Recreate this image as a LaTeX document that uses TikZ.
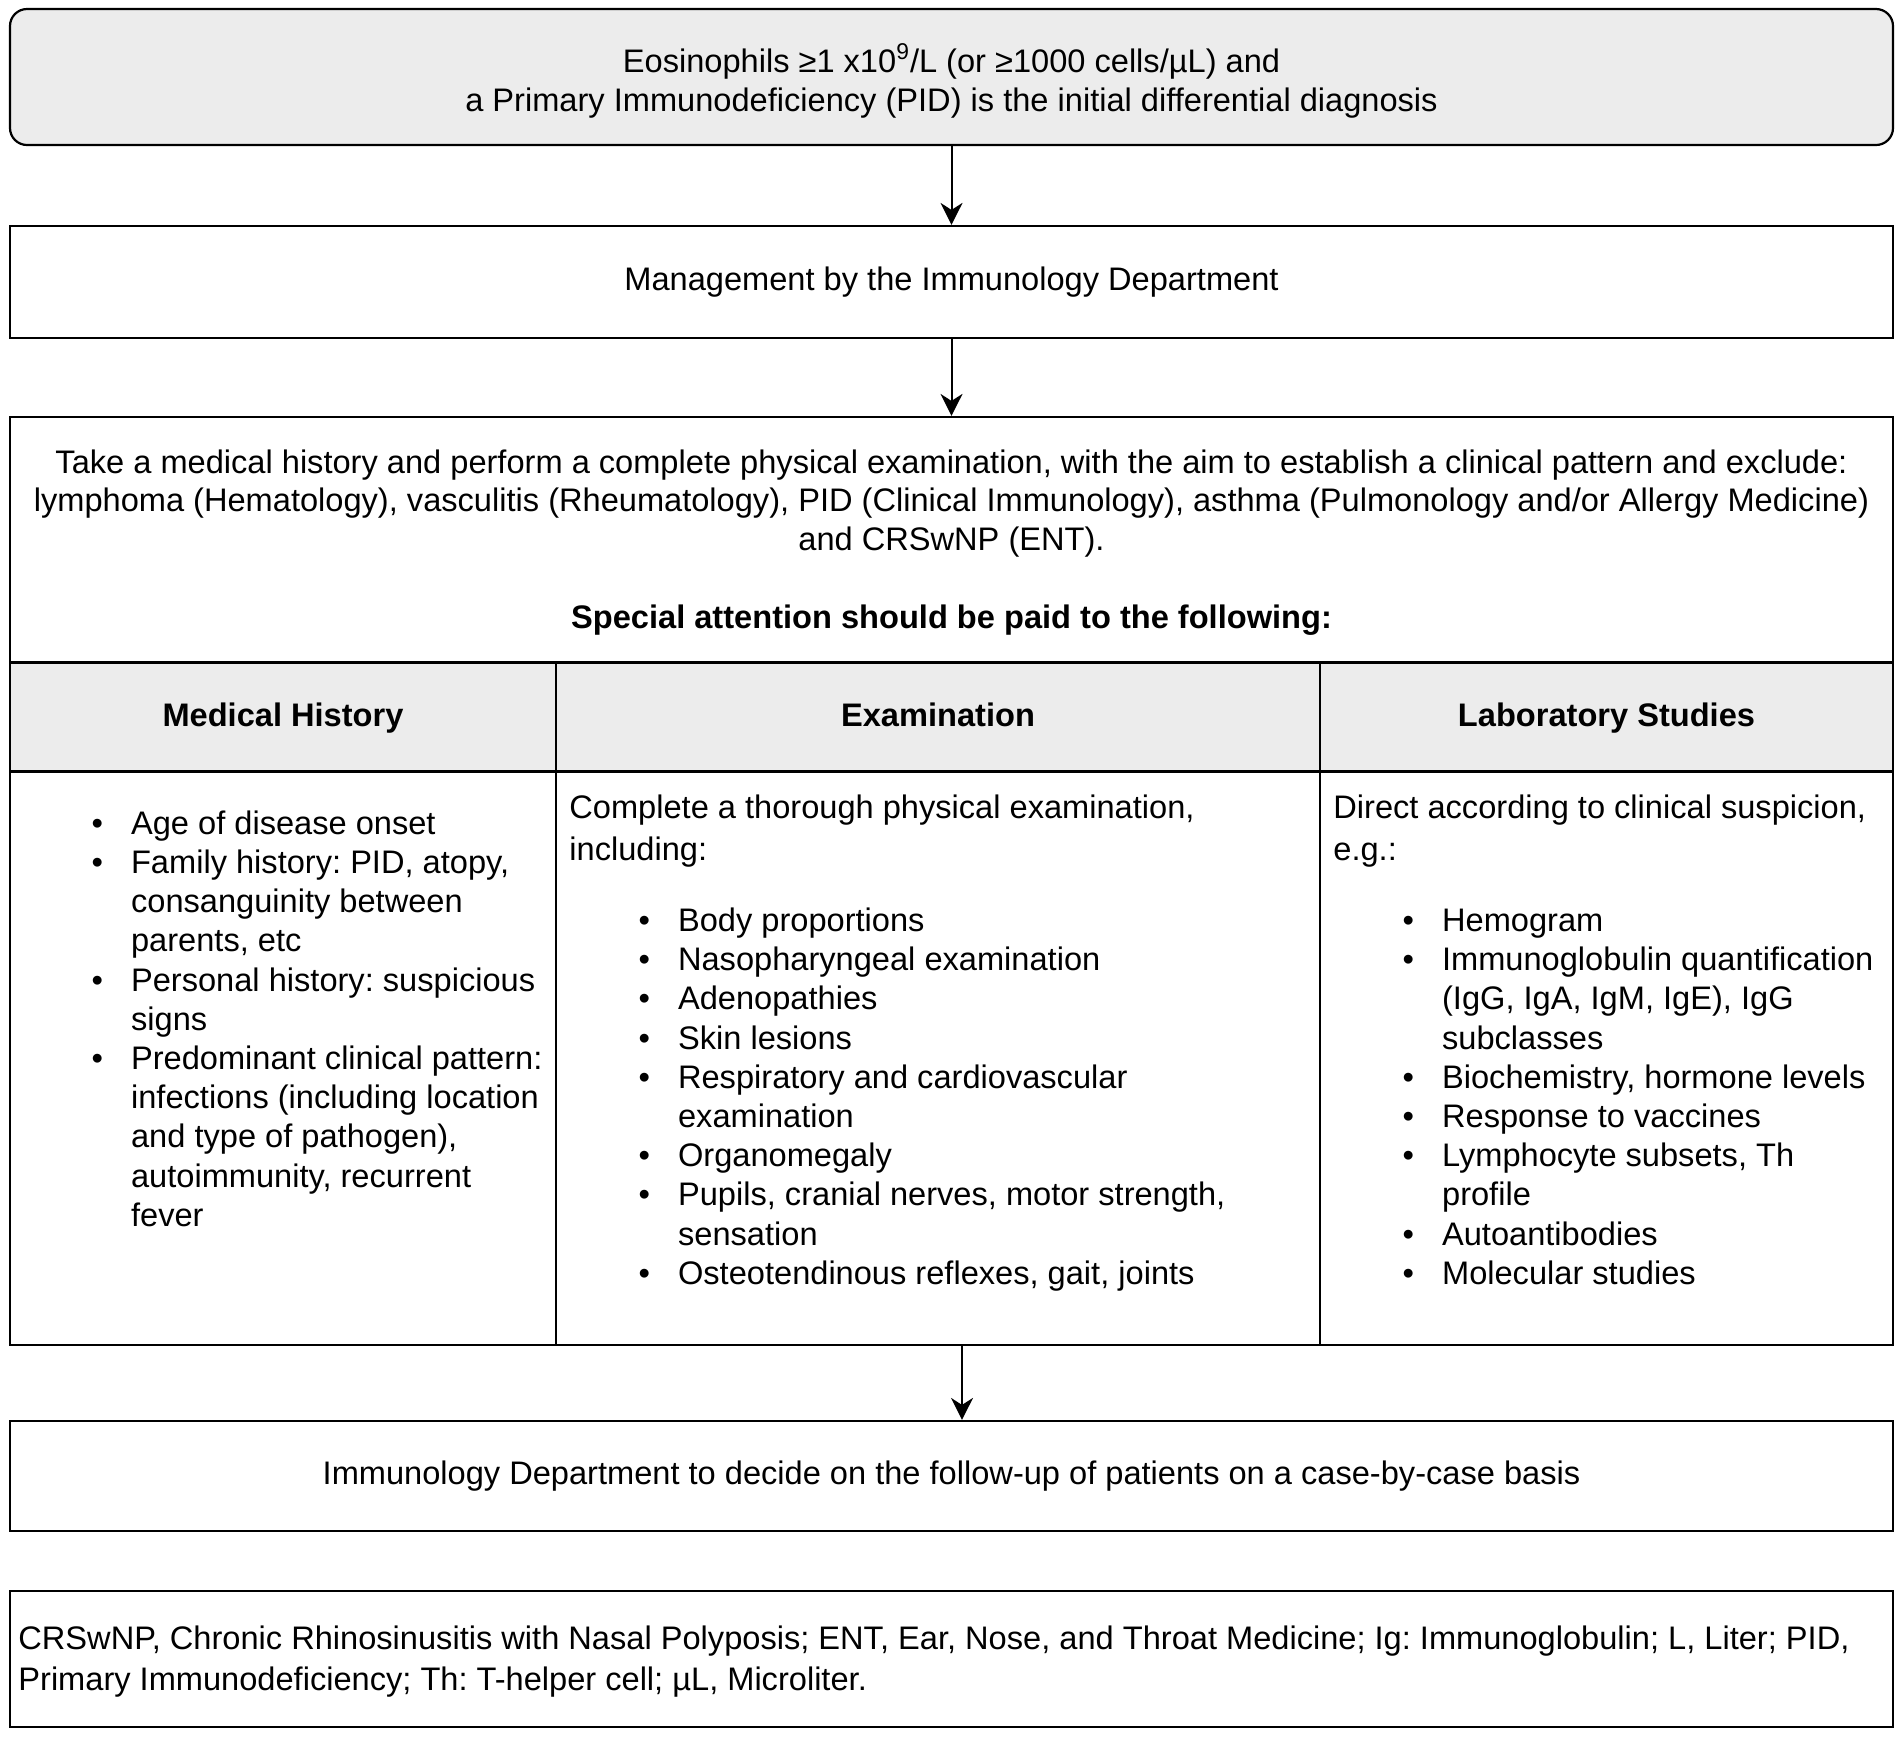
\documentclass[tikz,border=0pt]{standalone}
\usepackage{fontspec}
\setmainfont{Liberation Sans}
\usetikzlibrary{arrows.meta}
\frenchspacing

\definecolor{grisclaro}{RGB}{236,236,236}
\newcommand{\letra}{\fontsize{16.3}{19.2}\selectfont}
\newcommand{\letrainicio}{\fontsize{16.3}{19.5}\selectfont}
\newcommand{\letranota}{\fontsize{16.3}{20.5}\selectfont}
\newcommand{\letralista}{\fontsize{16.3}{19.6}\selectfont}
\newcommand{\letraintro}{\fontsize{16.3}{21}\selectfont}

\tikzset{
  caja/.style={draw, line width=1.1pt, inner sep=0pt},
  cabecera/.style={caja, fill=grisclaro, minimum height=54.5pt, font=\letra\bfseries,
                   text height=0.94em, text depth=0pt},
  celda/.style={caja, minimum height=286.5pt},
  lista/.style={anchor=north west, inner sep=0pt, font=\letralista},
  flecha/.style={line width=1pt, -{Stealth[length=11pt,width=11pt,inset=3.5pt]}}
}

\begin{document}
\begin{tikzpicture}[x=0.5pt, y=-0.5pt]
  \useasboundingbox (0,0) rectangle (1902,1736);

  % Caja inicial
  \node[caja, rounded corners=8.5pt, fill=grisclaro, minimum width=941.5pt, minimum height=68pt]
        (inicio) at (951.5,77) {};
  \node[inner sep=0pt, font=\letrainicio] (inicioTexto) at (951.5,83.4) {\begin{tabular}{@{}c@{}}
    Eosinophils ≥1 x10\textsuperscript{9}/L (or ≥1000 cells/µL) and\\
    a Primary Immunodeficiency (PID) is the initial differential diagnosis
  \end{tabular}};

  % Gestion
  \node[caja, minimum width=941.5pt, minimum height=56pt, font=\letra] (gestion) at (951.5,282)
        {Management by the Immunology Department};

  % Caja grande de estudio
  \node[caja, minimum width=941.5pt, minimum height=464pt] (estudio) at (951.5,881) {};
  \node[inner sep=0pt, font=\letra] (intro) at (951.5,504.2) {\begin{tabular}{@{}c@{}}
    Take a medical history and perform a complete physical examination, with the aim to establish a clinical pattern and exclude:\\
    lymphoma (Hematology), vasculitis (Rheumatology), PID (Clinical Immunology), asthma (Pulmonology and/or Allergy Medicine)\\
    and CRSwNP (ENT).
  \end{tabular}};
  \node[font=\letra\bfseries] (atencion) at (951.5,620) {Special attention should be paid to the following:};

  % Cabeceras de la tabla
  \node[cabecera, minimum width=273pt] (cabHist) at (283,717) {Medical History};
  \node[cabecera, minimum width=382pt] (cabExam) at (938,717) {Examination};
  \node[cabecera, minimum width=286.5pt] (cabLab) at (1606.5,717) {Laboratory Studies};

  % Celdas
  \node[celda, minimum width=273pt] (celHist) at (283,1058.5) {};
  \node[celda, minimum width=382pt] (celExam) at (938,1058.5) {};
  \node[celda, minimum width=286.5pt] (celLab) at (1606.5,1058.5) {};

  % Columna 1
  \node[lista] (listaHist) at (91.3,806.5) {\begin{tabular}{@{}l@{\hspace{14pt}}l@{}}
    • & Age of disease onset\\
    • & Family history: PID, atopy,\\
      & consanguinity between\\
      & parents, etc\\
    • & Personal history: suspicious\\
      & signs\\
    • & Predominant clinical pattern:\\
      & infections (including location\\
      & and type of pathogen),\\
      & autoimmunity, recurrent\\
      & fever
  \end{tabular}};

  % Columna 2
  \node[lista, font=\letraintro] (introExam) at (569,789) {\begin{tabular}{@{}l@{}}
    Complete a thorough physical examination,\\
    including:
  \end{tabular}};
  \node[lista] (listaExam) at (638.3,903.7) {\begin{tabular}{@{}l@{\hspace{14pt}}l@{}}
    • & Body proportions\\
    • & Nasopharyngeal examination\\
    • & Adenopathies\\
    • & Skin lesions\\
    • & Respiratory and cardiovascular\\
      & examination\\
    • & Organomegaly\\
    • & Pupils, cranial nerves, motor strength,\\
      & sensation\\
    • & Osteotendinous reflexes, gait, joints
  \end{tabular}};

  % Columna 3
  \node[lista, font=\letraintro] (introLab) at (1333,789) {\begin{tabular}{@{}l@{}}
    Direct according to clinical suspicion,\\
    e.g.:
  \end{tabular}};
  \node[lista] (listaLab) at (1402.3,903.7) {\begin{tabular}{@{}l@{\hspace{14pt}}l@{}}
    • & Hemogram\\
    • & Immunoglobulin quantification\\
      & (IgG, IgA, IgM, IgE), IgG\\
      & subclasses\\
    • & Biochemistry, hormone levels\\
    • & Response to vaccines\\
    • & Lymphocyte subsets, Th\\
      & profile\\
    • & Autoantibodies\\
    • & Molecular studies
  \end{tabular}};

  % Seguimiento
  \node[caja, minimum width=941.5pt, minimum height=55pt, font=\letra] (seguimiento) at (951.5,1476)
        {Immunology Department to decide on the follow-up of patients on a case-by-case basis};

  % Abreviaturas
  \node[caja, minimum width=941.5pt, minimum height=68pt] (abrev) at (951.5,1659) {};
  \node[anchor=west, inner sep=0pt, font=\letranota] (abrevTexto) at (18,1661.3) {\begin{tabular}{@{}l@{}}
    CRSwNP, Chronic Rhinosinusitis with Nasal Polyposis; ENT, Ear, Nose, and Throat Medicine; Ig: Immunoglobulin; L, Liter; PID,\\
    Primary Immunodeficiency; Th: T-helper cell; µL, Microliter.
  \end{tabular}};

  % Flechas
  \coordinate (eje) at (962,0);
  \draw[flecha] (inicio.south) -- (gestion.north);
  \draw[flecha] (gestion.south) -- (estudio.north);
  \draw[flecha] (estudio.south -| eje) -- (seguimiento.north -| eje);
\end{tikzpicture}
\end{document}
